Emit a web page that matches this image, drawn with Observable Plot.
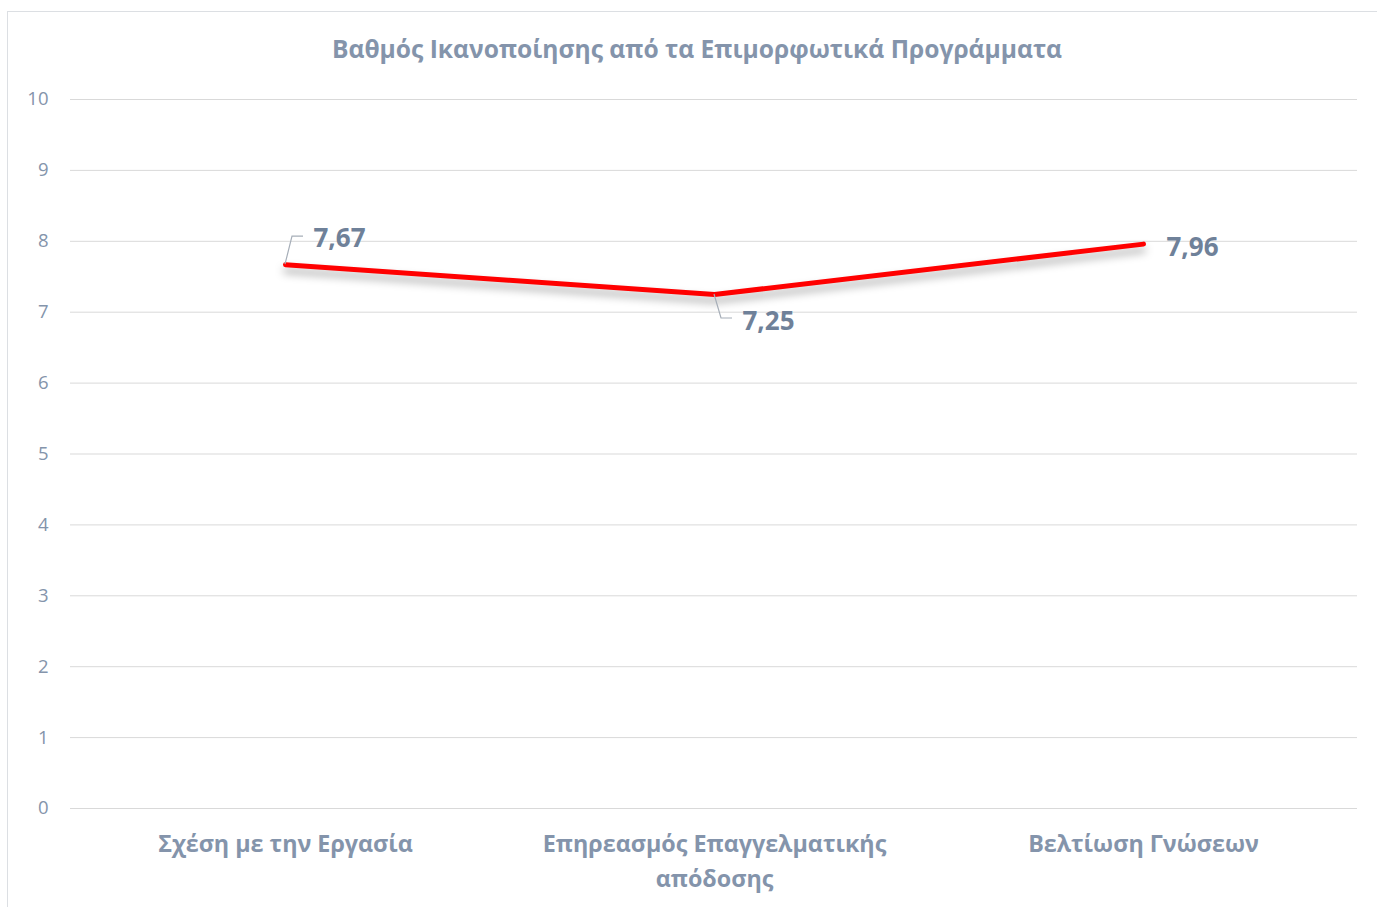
<!DOCTYPE html>
<html>
<head>
<meta charset="utf-8">
<script src="https://cdn.jsdelivr.net/npm/d3@7"></script>
<script src="https://cdn.jsdelivr.net/npm/@observablehq/plot@0.6"></script>
<style>
  html, body { margin: 0; padding: 0; background: #fff; overflow: hidden; }
  #frame { position: absolute; left: 7px; top: 11px; width: 1400px; height: 920px; border: 1px solid #dcdfe3; box-sizing: border-box; }
  #title { position: absolute; left: 0; top: 32px; width: 1394px; text-align: center;
           font-family: "Open Sans", sans-serif; font-weight: bold; font-size: 24.6px; color: #8494ab; }
  #chart { position: absolute; left: 0; top: 75px; }
  #chart svg .line-shadow { filter: drop-shadow(0px 6px 4px rgba(0,0,0,0.33)); }
</style>
</head>
<body>
<div id="frame"></div>
<div id="title"></div>
<div id="chart"></div>
<script>
const titleText = "Βαθμός Ικανοποίησης από τα Επιμορφωτικά Προγράμματα";
const categories = ["Σχέση με την Εργασία", "Επηρεασμός Επαγγελματικής απόδοσης", "Βελτίωση Γνώσεων"];
const categoryTicks = ["Σχέση με την Εργασία", "Επηρεασμός Επαγγελματικής\nαπόδοσης", "Βελτίωση Γνώσεων"];
const values = [7.67, 7.25, 7.96];
const valueLabels = ["7,67", "7,25", "7,96"];
const yTicks = [0, 1, 2, 3, 4, 5, 6, 7, 8, 9, 10];

document.getElementById("title").textContent = titleText;

const data = categories.map((c, i) => ({cat: c, value: values[i], label: valueLabels[i], idx: i}));

const textColor = "#8494ab";
const labelColor = "#6f8199";
const font = "Open Sans, sans-serif";

// label placement (pixel offsets relative to each point)
const labelDx = [28, 28, 23];
const labelDy = [-33, 20, -3];
const leaderDy = [-28, 24, 0];
const leader = [true, true, false];

function leaders(index, scales) {
  const g = d3.create("svg:g");
  data.forEach((d, i) => {
    if (!leader[i]) return;
    const x = scales.x(d.cat), y = scales.y(d.value);
    const ly = y + leaderDy[i];
    g.append("path")
      .attr("d", `M${x},${y} L${x + 7},${ly} L${x + labelDx[i] - 10},${ly}`)
      .attr("fill", "none").attr("stroke", "#a6aeb8").attr("stroke-width", 1.2);
  });
  return g.node();
}

const plot = Plot.plot({
  width: 1377,
  height: 832,
  marginLeft: 70,
  marginRight: 20,
  marginTop: 24,
  marginBottom: 99,
  style: {fontFamily: font, background: "transparent", overflow: "visible"},
  x: {type: "point", domain: categories, padding: 0.5},
  y: {domain: [0, 10]},
  marks: [
    Plot.gridY(yTicks, {stroke: "#d9d9d9", strokeOpacity: 1, strokeWidth: 1}),
    Plot.axisY(yTicks, {tickSize: 0, tickPadding: 22, fontSize: 18.5, fill: textColor, label: null,
                        tickFormat: d => String(d)}),
    Plot.axisX({tickSize: 0, tickPadding: 19, fontSize: 23.3, fontWeight: "bold", fill: textColor, label: null,
                lineHeight: 1.5,
                tickFormat: d => categoryTicks[categories.indexOf(d)]}),
    Plot.line(data, {x: "cat", y: "value", stroke: "#ff0000", strokeWidth: 5,
                     strokeLinecap: "round", strokeLinejoin: "round", className: "line-shadow"}),
    leaders,
    Plot.text(data, {x: "cat", y: "value", text: "label", fontSize: 26, fontWeight: "bold",
                     fill: labelColor, textAnchor: "start"})
  ]
});
document.getElementById("chart").appendChild(plot);

// position labels per point offsets
d3.select(plot).selectAll("g[aria-label=text] text").each(function(d, i) {
  d3.select(this).attr("dx", labelDx[i]).attr("dy", labelDy[i]).attr("dominant-baseline", "middle");
});
</script>
</body>
</html>
